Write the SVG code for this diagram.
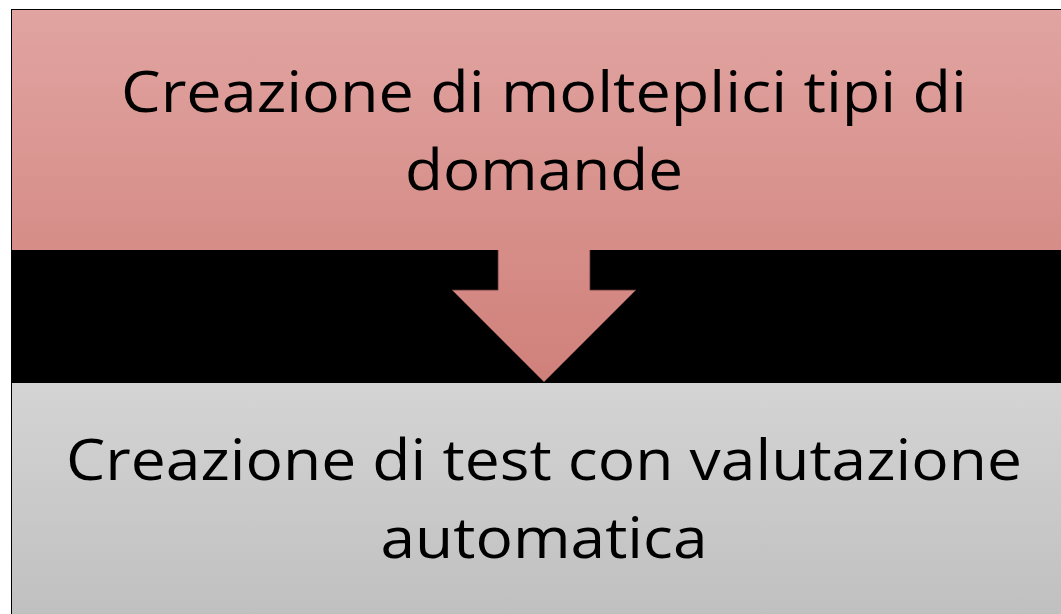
<svg xmlns="http://www.w3.org/2000/svg" width="1061" height="614" viewBox="0 0 1061 614">
<defs>
<linearGradient id="red" gradientUnits="userSpaceOnUse" x1="0" y1="10" x2="0" y2="383">
<stop offset="0" stop-color="#e1a4a1"/>
<stop offset="1" stop-color="#d0807a"/>
</linearGradient>
<linearGradient id="gray" gradientUnits="userSpaceOnUse" x1="0" y1="383" x2="0" y2="614">
<stop offset="0" stop-color="#d4d4d4"/>
<stop offset="1" stop-color="#c0c0c0"/>
</linearGradient>
<style>
.t{font-family:"Open Sans","Noto Sans","Liberation Sans",sans-serif;font-size:57px;fill:#000;text-anchor:middle}
</style>
</defs>
<rect x="0" y="0" width="1061" height="614" fill="#ffffff"/>
<rect x="11" y="9" width="1050" height="605" fill="#000"/>
<g id="connectors">
<polygon id="arrow" points="498,249 590,249 590,290 636,290 544,382 452,290 498,290" fill="url(#red)" stroke="#5a3030" stroke-width="0.8"/>
</g>
<g id="node-top">
<rect x="12" y="10" width="1049" height="240" fill="url(#red)"/>
<text class="t" x="544" y="112" textLength="846" lengthAdjust="spacingAndGlyphs">Creazione di molteplici tipi di</text>
<text class="t" x="544" y="190" textLength="278" lengthAdjust="spacingAndGlyphs">domande</text>
</g>
<g id="node-bottom">
<rect x="12" y="383" width="1049" height="231" fill="url(#gray)"/>
<text class="t" x="544" y="480" textLength="956" lengthAdjust="spacingAndGlyphs">Creazione di test con valutazione</text>
<text class="t" x="544" y="558" textLength="327" lengthAdjust="spacingAndGlyphs">automatica</text>
</g>
</svg>
